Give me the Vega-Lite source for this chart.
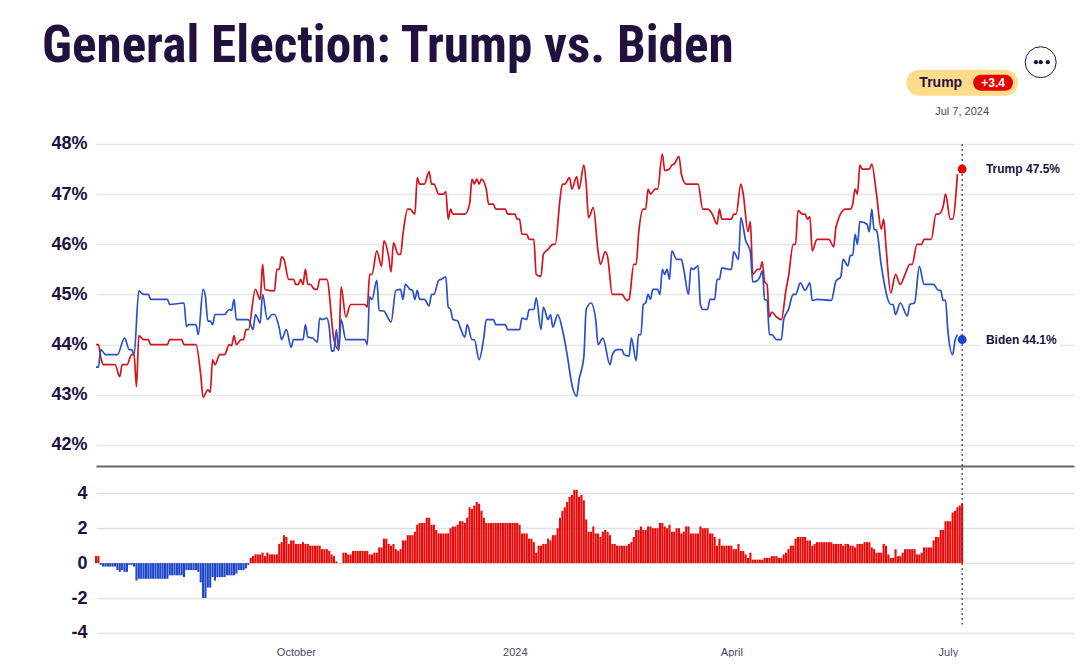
{"$schema":"https://vega.github.io/schema/vega-lite/v6.json","background":"white","padding":{"left":41,"top":20,"right":5,"bottom":0},"spacing":0,"config":{"view":{"stroke":null},"concat":{"spacing":0}},"title":{"text":"General Election: Trump vs. Biden","anchor":"start","frame":"bounds","font":"Roboto Condensed, Roboto, Liberation Sans","fontSize":51.2,"fontWeight":"bold","color":"#22103f","offset":-28,"dx":-9},
"datasets":{
"polls":[
{"date":"2023-07-09","who":"Trump","pct":44.0},{"date":"2023-07-10","who":"Trump","pct":44.0},{"date":"2023-07-11","who":"Trump","pct":43.75},{"date":"2023-07-12","who":"Trump","pct":43.6},{"date":"2023-07-17","who":"Trump","pct":43.6},{"date":"2023-07-19","who":"Trump","pct":43.36},{"date":"2023-07-20","who":"Trump","pct":43.6},{"date":"2023-07-22","who":"Trump","pct":43.6},{"date":"2023-07-24","who":"Trump","pct":43.8},{"date":"2023-07-25","who":"Trump","pct":43.8},{"date":"2023-07-26","who":"Trump","pct":43.16},{"date":"2023-07-27","who":"Trump","pct":44.18},{"date":"2023-07-29","who":"Trump","pct":44.1},{"date":"2023-07-31","who":"Trump","pct":44.1},{"date":"2023-08-01","who":"Trump","pct":44.0},{"date":"2023-08-08","who":"Trump","pct":44.0},{"date":"2023-08-09","who":"Trump","pct":44.1},{"date":"2023-08-14","who":"Trump","pct":44.1},{"date":"2023-08-15","who":"Trump","pct":44.0},{"date":"2023-08-20","who":"Trump","pct":44.0},{"date":"2023-08-22","who":"Trump","pct":43.4},{"date":"2023-08-23","who":"Trump","pct":42.95},{"date":"2023-08-25","who":"Trump","pct":43.1},{"date":"2023-08-26","who":"Trump","pct":43.05},{"date":"2023-08-27","who":"Trump","pct":43.7},{"date":"2023-08-28","who":"Trump","pct":43.6},{"date":"2023-08-30","who":"Trump","pct":43.8},{"date":"2023-09-01","who":"Trump","pct":43.8},{"date":"2023-09-03","who":"Trump","pct":44.0},{"date":"2023-09-04","who":"Trump","pct":43.98},{"date":"2023-09-05","who":"Trump","pct":44.18},{"date":"2023-09-06","who":"Trump","pct":44.0},{"date":"2023-09-08","who":"Trump","pct":44.1},{"date":"2023-09-09","who":"Trump","pct":44.1},{"date":"2023-09-10","who":"Trump","pct":44.3},{"date":"2023-09-11","who":"Trump","pct":44.3},{"date":"2023-09-14","who":"Trump","pct":45.1},{"date":"2023-09-16","who":"Trump","pct":44.9},{"date":"2023-09-17","who":"Trump","pct":45.6},{"date":"2023-09-18","who":"Trump","pct":45.1},{"date":"2023-09-22","who":"Trump","pct":45.07},{"date":"2023-09-23","who":"Trump","pct":45.5},{"date":"2023-09-24","who":"Trump","pct":45.5},{"date":"2023-09-25","who":"Trump","pct":45.75},{"date":"2023-09-26","who":"Trump","pct":45.7},{"date":"2023-09-28","who":"Trump","pct":45.3},{"date":"2023-09-30","who":"Trump","pct":45.3},
{"date":"2023-10-01","who":"Trump","pct":45.2},{"date":"2023-10-02","who":"Trump","pct":45.2},{"date":"2023-10-03","who":"Trump","pct":45.3},{"date":"2023-10-04","who":"Trump","pct":45.2},{"date":"2023-10-05","who":"Trump","pct":45.5},{"date":"2023-10-06","who":"Trump","pct":45.2},{"date":"2023-10-07","who":"Trump","pct":45.2},{"date":"2023-10-09","who":"Trump","pct":45.1},{"date":"2023-10-10","who":"Trump","pct":45.1},{"date":"2023-10-11","who":"Trump","pct":45.3},{"date":"2023-10-14","who":"Trump","pct":45.3},{"date":"2023-10-17","who":"Trump","pct":44.1},{"date":"2023-10-19","who":"Trump","pct":43.9},{"date":"2023-10-20","who":"Trump","pct":45.15},{"date":"2023-10-22","who":"Trump","pct":44.55},{"date":"2023-10-24","who":"Trump","pct":44.8},{"date":"2023-10-30","who":"Trump","pct":44.8},{"date":"2023-10-31","who":"Trump","pct":44.75},
{"date":"2023-11-01","who":"Trump","pct":45.4},{"date":"2023-11-02","who":"Trump","pct":45.4},{"date":"2023-11-04","who":"Trump","pct":45.87},{"date":"2023-11-06","who":"Trump","pct":45.56},{"date":"2023-11-07","who":"Trump","pct":46.07},{"date":"2023-11-09","who":"Trump","pct":45.75},{"date":"2023-11-10","who":"Trump","pct":45.45},{"date":"2023-11-11","who":"Trump","pct":46.03},{"date":"2023-11-13","who":"Trump","pct":45.8},{"date":"2023-11-14","who":"Trump","pct":45.8},{"date":"2023-11-15","who":"Trump","pct":46.2},{"date":"2023-11-17","who":"Trump","pct":46.7},{"date":"2023-11-18","who":"Trump","pct":46.7},{"date":"2023-11-20","who":"Trump","pct":46.6},{"date":"2023-11-21","who":"Trump","pct":47.33},{"date":"2023-11-22","who":"Trump","pct":47.2},{"date":"2023-11-24","who":"Trump","pct":47.2},{"date":"2023-11-26","who":"Trump","pct":47.45},{"date":"2023-11-27","who":"Trump","pct":47.2},{"date":"2023-11-28","who":"Trump","pct":47.2},{"date":"2023-11-30","who":"Trump","pct":47.0},
{"date":"2023-12-02","who":"Trump","pct":47.0},{"date":"2023-12-03","who":"Trump","pct":47.05},{"date":"2023-12-04","who":"Trump","pct":46.5},{"date":"2023-12-05","who":"Trump","pct":46.7},{"date":"2023-12-06","who":"Trump","pct":46.6},{"date":"2023-12-11","who":"Trump","pct":46.6},{"date":"2023-12-13","who":"Trump","pct":46.8},{"date":"2023-12-14","who":"Trump","pct":47.3},{"date":"2023-12-15","who":"Trump","pct":47.2},{"date":"2023-12-16","who":"Trump","pct":47.3},{"date":"2023-12-17","who":"Trump","pct":47.2},{"date":"2023-12-18","who":"Trump","pct":47.3},{"date":"2023-12-20","who":"Trump","pct":47.1},{"date":"2023-12-21","who":"Trump","pct":46.8},{"date":"2023-12-23","who":"Trump","pct":46.8},{"date":"2023-12-24","who":"Trump","pct":46.7},{"date":"2023-12-28","who":"Trump","pct":46.7},{"date":"2023-12-29","who":"Trump","pct":46.6},
{"date":"2024-01-01","who":"Trump","pct":46.6},{"date":"2024-01-02","who":"Trump","pct":46.5},{"date":"2024-01-03","who":"Trump","pct":46.5},{"date":"2024-01-04","who":"Trump","pct":46.2},{"date":"2024-01-06","who":"Trump","pct":46.2},{"date":"2024-01-07","who":"Trump","pct":46.1},{"date":"2024-01-09","who":"Trump","pct":46.1},{"date":"2024-01-10","who":"Trump","pct":45.4},{"date":"2024-01-12","who":"Trump","pct":45.36},{"date":"2024-01-13","who":"Trump","pct":45.8},{"date":"2024-01-15","who":"Trump","pct":45.9},{"date":"2024-01-17","who":"Trump","pct":46.0},{"date":"2024-01-18","who":"Trump","pct":46.0},{"date":"2024-01-20","who":"Trump","pct":46.9},{"date":"2024-01-21","who":"Trump","pct":47.2},{"date":"2024-01-22","who":"Trump","pct":47.2},{"date":"2024-01-24","who":"Trump","pct":47.33},{"date":"2024-01-25","who":"Trump","pct":47.1},{"date":"2024-01-27","who":"Trump","pct":47.35},{"date":"2024-01-28","who":"Trump","pct":47.1},{"date":"2024-01-30","who":"Trump","pct":47.58},{"date":"2024-01-31","who":"Trump","pct":47.2},
{"date":"2024-02-01","who":"Trump","pct":46.53},{"date":"2024-02-03","who":"Trump","pct":46.73},{"date":"2024-02-05","who":"Trump","pct":45.85},{"date":"2024-02-06","who":"Trump","pct":45.6},{"date":"2024-02-08","who":"Trump","pct":45.85},{"date":"2024-02-09","who":"Trump","pct":45.75},{"date":"2024-02-11","who":"Trump","pct":45.0},{"date":"2024-02-15","who":"Trump","pct":45.0},{"date":"2024-02-17","who":"Trump","pct":44.88},{"date":"2024-02-18","who":"Trump","pct":44.9},{"date":"2024-02-20","who":"Trump","pct":45.6},{"date":"2024-02-21","who":"Trump","pct":45.6},{"date":"2024-02-22","who":"Trump","pct":46.2},{"date":"2024-02-24","who":"Trump","pct":46.7},{"date":"2024-02-25","who":"Trump","pct":46.7},{"date":"2024-02-26","who":"Trump","pct":47.1},{"date":"2024-02-27","who":"Trump","pct":47.0},{"date":"2024-02-29","who":"Trump","pct":47.1},
{"date":"2024-03-01","who":"Trump","pct":47.1},{"date":"2024-03-03","who":"Trump","pct":47.8},{"date":"2024-03-04","who":"Trump","pct":47.47},{"date":"2024-03-06","who":"Trump","pct":47.5},{"date":"2024-03-07","who":"Trump","pct":47.58},{"date":"2024-03-08","who":"Trump","pct":47.6},{"date":"2024-03-10","who":"Trump","pct":47.75},{"date":"2024-03-11","who":"Trump","pct":47.4},{"date":"2024-03-13","who":"Trump","pct":47.2},{"date":"2024-03-18","who":"Trump","pct":47.2},{"date":"2024-03-20","who":"Trump","pct":46.7},{"date":"2024-03-22","who":"Trump","pct":46.7},{"date":"2024-03-24","who":"Trump","pct":46.6},{"date":"2024-03-26","who":"Trump","pct":46.4},{"date":"2024-03-27","who":"Trump","pct":46.7},{"date":"2024-03-28","who":"Trump","pct":46.5},
{"date":"2024-04-01","who":"Trump","pct":46.5},{"date":"2024-04-02","who":"Trump","pct":46.6},{"date":"2024-04-03","who":"Trump","pct":46.6},{"date":"2024-04-05","who":"Trump","pct":47.2},{"date":"2024-04-06","who":"Trump","pct":47.0},{"date":"2024-04-08","who":"Trump","pct":46.25},{"date":"2024-04-09","who":"Trump","pct":46.45},{"date":"2024-04-10","who":"Trump","pct":45.4},{"date":"2024-04-12","who":"Trump","pct":45.5},{"date":"2024-04-13","who":"Trump","pct":45.5},{"date":"2024-04-14","who":"Trump","pct":45.65},{"date":"2024-04-15","who":"Trump","pct":45.25},{"date":"2024-04-16","who":"Trump","pct":45.2},{"date":"2024-04-17","who":"Trump","pct":44.55},{"date":"2024-04-18","who":"Trump","pct":44.65},{"date":"2024-04-20","who":"Trump","pct":44.55},{"date":"2024-04-22","who":"Trump","pct":44.5},{"date":"2024-04-24","who":"Trump","pct":45.1},{"date":"2024-04-25","who":"Trump","pct":45.35},{"date":"2024-04-27","who":"Trump","pct":46.0},{"date":"2024-04-28","who":"Trump","pct":46.0},{"date":"2024-04-29","who":"Trump","pct":46.67},
{"date":"2024-05-01","who":"Trump","pct":46.6},{"date":"2024-05-02","who":"Trump","pct":46.6},{"date":"2024-05-03","who":"Trump","pct":46.5},{"date":"2024-05-04","who":"Trump","pct":46.55},{"date":"2024-05-05","who":"Trump","pct":45.87},{"date":"2024-05-07","who":"Trump","pct":46.1},{"date":"2024-05-12","who":"Trump","pct":46.1},{"date":"2024-05-14","who":"Trump","pct":45.95},{"date":"2024-05-15","who":"Trump","pct":46.35},{"date":"2024-05-19","who":"Trump","pct":46.7},{"date":"2024-05-21","who":"Trump","pct":46.7},{"date":"2024-05-22","who":"Trump","pct":46.8},{"date":"2024-05-23","who":"Trump","pct":47.1},{"date":"2024-05-24","who":"Trump","pct":47.0},{"date":"2024-05-25","who":"Trump","pct":47.58},{"date":"2024-05-26","who":"Trump","pct":47.5},{"date":"2024-05-29","who":"Trump","pct":47.5},{"date":"2024-05-30","who":"Trump","pct":47.6},
{"date":"2024-06-01","who":"Trump","pct":47.0},{"date":"2024-06-03","who":"Trump","pct":46.3},{"date":"2024-06-04","who":"Trump","pct":46.5},{"date":"2024-06-05","who":"Trump","pct":45.95},{"date":"2024-06-07","who":"Trump","pct":45.03},{"date":"2024-06-09","who":"Trump","pct":45.4},{"date":"2024-06-11","who":"Trump","pct":45.2},{"date":"2024-06-13","who":"Trump","pct":45.4},{"date":"2024-06-15","who":"Trump","pct":45.6},{"date":"2024-06-16","who":"Trump","pct":45.6},{"date":"2024-06-18","who":"Trump","pct":46.0},{"date":"2024-06-20","who":"Trump","pct":46.0},{"date":"2024-06-21","who":"Trump","pct":46.1},{"date":"2024-06-24","who":"Trump","pct":46.1},{"date":"2024-06-26","who":"Trump","pct":46.6},{"date":"2024-06-27","who":"Trump","pct":46.6},{"date":"2024-06-29","who":"Trump","pct":46.75},{"date":"2024-06-30","who":"Trump","pct":47.0},{"date":"2024-07-02","who":"Trump","pct":46.5},{"date":"2024-07-03","who":"Trump","pct":46.5},{"date":"2024-07-05","who":"Trump","pct":47.4},
{"date":"2023-07-09","who":"Biden","pct":43.55},{"date":"2023-07-10","who":"Biden","pct":43.55},{"date":"2023-07-11","who":"Biden","pct":43.9},{"date":"2023-07-13","who":"Biden","pct":43.8},{"date":"2023-07-18","who":"Biden","pct":43.8},{"date":"2023-07-21","who":"Biden","pct":44.13},{"date":"2023-07-23","who":"Biden","pct":43.9},{"date":"2023-07-24","who":"Biden","pct":43.9},{"date":"2023-07-25","who":"Biden","pct":43.8},{"date":"2023-07-27","who":"Biden","pct":45.07},{"date":"2023-07-29","who":"Biden","pct":45.0},{"date":"2023-07-31","who":"Biden","pct":45.0},{"date":"2023-08-01","who":"Biden","pct":44.9},{"date":"2023-08-08","who":"Biden","pct":44.9},{"date":"2023-08-09","who":"Biden","pct":44.8},{"date":"2023-08-15","who":"Biden","pct":44.83},{"date":"2023-08-16","who":"Biden","pct":44.36},{"date":"2023-08-17","who":"Biden","pct":44.4},{"date":"2023-08-20","who":"Biden","pct":44.4},{"date":"2023-08-21","who":"Biden","pct":44.2},{"date":"2023-08-23","who":"Biden","pct":45.1},{"date":"2023-08-24","who":"Biden","pct":44.95},{"date":"2023-08-25","who":"Biden","pct":44.47},{"date":"2023-08-26","who":"Biden","pct":44.47},{"date":"2023-08-27","who":"Biden","pct":44.4},{"date":"2023-08-28","who":"Biden","pct":44.6},{"date":"2023-09-01","who":"Biden","pct":44.6},{"date":"2023-09-03","who":"Biden","pct":44.7},{"date":"2023-09-04","who":"Biden","pct":44.68},{"date":"2023-09-05","who":"Biden","pct":44.9},{"date":"2023-09-06","who":"Biden","pct":44.5},{"date":"2023-09-11","who":"Biden","pct":44.5},{"date":"2023-09-13","who":"Biden","pct":44.3},{"date":"2023-09-14","who":"Biden","pct":44.6},{"date":"2023-09-16","who":"Biden","pct":44.43},{"date":"2023-09-17","who":"Biden","pct":45.0},{"date":"2023-09-19","who":"Biden","pct":44.5},{"date":"2023-09-21","who":"Biden","pct":44.6},{"date":"2023-09-22","who":"Biden","pct":44.6},{"date":"2023-09-24","who":"Biden","pct":44.33},{"date":"2023-09-25","who":"Biden","pct":44.1},{"date":"2023-09-27","who":"Biden","pct":44.3},{"date":"2023-09-29","who":"Biden","pct":43.95},{"date":"2023-09-30","who":"Biden","pct":44.1},
{"date":"2023-10-04","who":"Biden","pct":44.1},{"date":"2023-10-05","who":"Biden","pct":44.4},{"date":"2023-10-06","who":"Biden","pct":44.15},{"date":"2023-10-08","who":"Biden","pct":44.13},{"date":"2023-10-10","who":"Biden","pct":44.05},{"date":"2023-10-11","who":"Biden","pct":44.53},{"date":"2023-10-12","who":"Biden","pct":44.5},{"date":"2023-10-14","who":"Biden","pct":44.53},{"date":"2023-10-15","who":"Biden","pct":44.35},{"date":"2023-10-16","who":"Biden","pct":43.87},{"date":"2023-10-17","who":"Biden","pct":43.88},{"date":"2023-10-18","who":"Biden","pct":44.3},{"date":"2023-10-19","who":"Biden","pct":43.88},{"date":"2023-10-20","who":"Biden","pct":44.5},{"date":"2023-10-22","who":"Biden","pct":44.1},{"date":"2023-10-30","who":"Biden","pct":44.1},{"date":"2023-10-31","who":"Biden","pct":44.0},
{"date":"2023-11-01","who":"Biden","pct":44.95},{"date":"2023-11-02","who":"Biden","pct":44.9},{"date":"2023-11-04","who":"Biden","pct":45.28},{"date":"2023-11-05","who":"Biden","pct":44.68},{"date":"2023-11-07","who":"Biden","pct":44.67},{"date":"2023-11-08","who":"Biden","pct":44.6},{"date":"2023-11-10","who":"Biden","pct":44.45},{"date":"2023-11-12","who":"Biden","pct":45.08},{"date":"2023-11-14","who":"Biden","pct":45.1},{"date":"2023-11-15","who":"Biden","pct":44.9},{"date":"2023-11-16","who":"Biden","pct":45.2},{"date":"2023-11-18","who":"Biden","pct":45.1},{"date":"2023-11-19","who":"Biden","pct":45.08},{"date":"2023-11-20","who":"Biden","pct":44.9},{"date":"2023-11-21","who":"Biden","pct":45.08},{"date":"2023-11-22","who":"Biden","pct":44.9},{"date":"2023-11-24","who":"Biden","pct":44.9},{"date":"2023-11-26","who":"Biden","pct":44.77},{"date":"2023-11-27","who":"Biden","pct":45.0},{"date":"2023-11-28","who":"Biden","pct":45.0},{"date":"2023-11-30","who":"Biden","pct":45.28},
{"date":"2023-12-01","who":"Biden","pct":45.3},{"date":"2023-12-03","who":"Biden","pct":45.35},{"date":"2023-12-04","who":"Biden","pct":44.75},{"date":"2023-12-05","who":"Biden","pct":44.7},{"date":"2023-12-06","who":"Biden","pct":44.5},{"date":"2023-12-08","who":"Biden","pct":44.47},{"date":"2023-12-09","who":"Biden","pct":44.35},{"date":"2023-12-11","who":"Biden","pct":44.15},{"date":"2023-12-12","who":"Biden","pct":44.4},{"date":"2023-12-14","who":"Biden","pct":44.1},{"date":"2023-12-15","who":"Biden","pct":44.1},{"date":"2023-12-17","who":"Biden","pct":43.7},{"date":"2023-12-19","who":"Biden","pct":44.15},{"date":"2023-12-20","who":"Biden","pct":44.5},{"date":"2023-12-23","who":"Biden","pct":44.5},{"date":"2023-12-24","who":"Biden","pct":44.4},{"date":"2023-12-28","who":"Biden","pct":44.4},{"date":"2023-12-29","who":"Biden","pct":44.3},
{"date":"2024-01-03","who":"Biden","pct":44.3},{"date":"2024-01-04","who":"Biden","pct":44.53},{"date":"2024-01-06","who":"Biden","pct":44.5},{"date":"2024-01-07","who":"Biden","pct":44.7},{"date":"2024-01-09","who":"Biden","pct":44.7},{"date":"2024-01-10","who":"Biden","pct":44.93},{"date":"2024-01-12","who":"Biden","pct":44.3},{"date":"2024-01-13","who":"Biden","pct":44.75},{"date":"2024-01-15","who":"Biden","pct":44.5},{"date":"2024-01-16","who":"Biden","pct":44.6},{"date":"2024-01-17","who":"Biden","pct":44.35},{"date":"2024-01-19","who":"Biden","pct":44.6},{"date":"2024-01-21","who":"Biden","pct":44.3},{"date":"2024-01-23","who":"Biden","pct":43.8},{"date":"2024-01-25","who":"Biden","pct":43.2},{"date":"2024-01-27","who":"Biden","pct":42.97},{"date":"2024-01-28","who":"Biden","pct":43.3},{"date":"2024-01-30","who":"Biden","pct":43.75},{"date":"2024-01-31","who":"Biden","pct":44.7},
{"date":"2024-02-02","who":"Biden","pct":44.83},{"date":"2024-02-04","who":"Biden","pct":44.5},{"date":"2024-02-05","who":"Biden","pct":44.0},{"date":"2024-02-07","who":"Biden","pct":44.13},{"date":"2024-02-10","who":"Biden","pct":43.6},{"date":"2024-02-11","who":"Biden","pct":43.8},{"date":"2024-02-13","who":"Biden","pct":43.9},{"date":"2024-02-15","who":"Biden","pct":43.9},{"date":"2024-02-16","who":"Biden","pct":43.8},{"date":"2024-02-18","who":"Biden","pct":43.77},{"date":"2024-02-19","who":"Biden","pct":44.13},{"date":"2024-02-21","who":"Biden","pct":43.68},{"date":"2024-02-22","who":"Biden","pct":44.2},{"date":"2024-02-23","who":"Biden","pct":44.2},{"date":"2024-02-24","who":"Biden","pct":44.8},{"date":"2024-02-25","who":"Biden","pct":44.83},{"date":"2024-02-26","who":"Biden","pct":45.0},{"date":"2024-02-27","who":"Biden","pct":44.9},{"date":"2024-02-28","who":"Biden","pct":45.1},
{"date":"2024-03-01","who":"Biden","pct":45.1},{"date":"2024-03-02","who":"Biden","pct":45.0},{"date":"2024-03-03","who":"Biden","pct":45.5},{"date":"2024-03-04","who":"Biden","pct":45.4},{"date":"2024-03-05","who":"Biden","pct":45.5},{"date":"2024-03-06","who":"Biden","pct":45.3},{"date":"2024-03-07","who":"Biden","pct":45.87},{"date":"2024-03-09","who":"Biden","pct":45.7},{"date":"2024-03-11","who":"Biden","pct":45.7},{"date":"2024-03-12","who":"Biden","pct":45.5},{"date":"2024-03-14","who":"Biden","pct":45.0},{"date":"2024-03-15","who":"Biden","pct":45.53},{"date":"2024-03-16","who":"Biden","pct":45.5},{"date":"2024-03-18","who":"Biden","pct":45.57},{"date":"2024-03-19","who":"Biden","pct":44.8},{"date":"2024-03-20","who":"Biden","pct":44.7},{"date":"2024-03-22","who":"Biden","pct":44.7},{"date":"2024-03-23","who":"Biden","pct":44.9},{"date":"2024-03-25","who":"Biden","pct":44.9},{"date":"2024-03-26","who":"Biden","pct":45.3},{"date":"2024-03-27","who":"Biden","pct":45.3},{"date":"2024-03-28","who":"Biden","pct":45.53},{"date":"2024-03-31","who":"Biden","pct":45.5},
{"date":"2024-04-01","who":"Biden","pct":45.5},{"date":"2024-04-02","who":"Biden","pct":45.85},{"date":"2024-04-04","who":"Biden","pct":45.7},{"date":"2024-04-05","who":"Biden","pct":46.53},{"date":"2024-04-07","who":"Biden","pct":46.08},{"date":"2024-04-09","who":"Biden","pct":45.85},{"date":"2024-04-10","who":"Biden","pct":45.25},{"date":"2024-04-12","who":"Biden","pct":45.28},{"date":"2024-04-13","who":"Biden","pct":45.35},{"date":"2024-04-14","who":"Biden","pct":45.47},{"date":"2024-04-15","who":"Biden","pct":44.9},{"date":"2024-04-16","who":"Biden","pct":44.88},{"date":"2024-04-17","who":"Biden","pct":44.2},{"date":"2024-04-18","who":"Biden","pct":44.2},{"date":"2024-04-20","who":"Biden","pct":44.1},{"date":"2024-04-22","who":"Biden","pct":44.1},{"date":"2024-04-23","who":"Biden","pct":44.5},{"date":"2024-04-25","who":"Biden","pct":44.7},{"date":"2024-04-27","who":"Biden","pct":45.0},{"date":"2024-04-28","who":"Biden","pct":45.0},{"date":"2024-04-30","who":"Biden","pct":45.23},
{"date":"2024-05-02","who":"Biden","pct":45.08},{"date":"2024-05-04","who":"Biden","pct":45.23},{"date":"2024-05-05","who":"Biden","pct":44.88},{"date":"2024-05-07","who":"Biden","pct":44.9},{"date":"2024-05-13","who":"Biden","pct":44.88},{"date":"2024-05-15","who":"Biden","pct":45.27},{"date":"2024-05-17","who":"Biden","pct":45.35},{"date":"2024-05-18","who":"Biden","pct":45.7},{"date":"2024-05-20","who":"Biden","pct":45.57},{"date":"2024-05-21","who":"Biden","pct":45.78},{"date":"2024-05-22","who":"Biden","pct":45.78},{"date":"2024-05-23","who":"Biden","pct":46.2},{"date":"2024-05-24","who":"Biden","pct":46.0},{"date":"2024-05-25","who":"Biden","pct":46.45},{"date":"2024-05-28","who":"Biden","pct":46.4},{"date":"2024-05-29","who":"Biden","pct":46.25},{"date":"2024-05-30","who":"Biden","pct":46.7},{"date":"2024-05-31","who":"Biden","pct":46.3},
{"date":"2024-06-01","who":"Biden","pct":46.28},{"date":"2024-06-03","who":"Biden","pct":45.58},{"date":"2024-06-07","who":"Biden","pct":44.8},{"date":"2024-06-08","who":"Biden","pct":44.8},{"date":"2024-06-09","who":"Biden","pct":44.6},{"date":"2024-06-11","who":"Biden","pct":44.83},{"date":"2024-06-14","who":"Biden","pct":44.57},{"date":"2024-06-15","who":"Biden","pct":44.8},{"date":"2024-06-17","who":"Biden","pct":44.83},{"date":"2024-06-19","who":"Biden","pct":45.56},{"date":"2024-06-21","who":"Biden","pct":45.2},{"date":"2024-06-25","who":"Biden","pct":45.2},{"date":"2024-06-27","who":"Biden","pct":45.08},{"date":"2024-06-28","who":"Biden","pct":45.08},{"date":"2024-06-29","who":"Biden","pct":44.88},{"date":"2024-06-30","who":"Biden","pct":44.88},{"date":"2024-07-01","who":"Biden","pct":44.28},{"date":"2024-07-03","who":"Biden","pct":43.8},{"date":"2024-07-04","who":"Biden","pct":44.08},{"date":"2024-07-05","who":"Biden","pct":44.2}
],
"spread":[
{"date":"2023-07-09","spread":0.4},{"date":"2023-07-10","spread":0.4},{"date":"2023-07-11","spread":-0.1},{"date":"2023-07-12","spread":-0.2},{"date":"2023-07-13","spread":-0.2},{"date":"2023-07-14","spread":-0.2},{"date":"2023-07-15","spread":-0.2},{"date":"2023-07-16","spread":-0.2},{"date":"2023-07-17","spread":-0.2},{"date":"2023-07-18","spread":-0.4},{"date":"2023-07-19","spread":-0.5},{"date":"2023-07-20","spread":-0.4},{"date":"2023-07-21","spread":-0.5},{"date":"2023-07-22","spread":-0.5},{"date":"2023-07-23","spread":-0.1},{"date":"2023-07-24","spread":-0.1},{"date":"2023-07-25","spread":-0.2},{"date":"2023-07-26","spread":-1.0},{"date":"2023-07-27","spread":-0.9},{"date":"2023-07-28","spread":-0.9},{"date":"2023-07-29","spread":-0.9},{"date":"2023-07-30","spread":-0.9},{"date":"2023-07-31","spread":-0.9},
{"date":"2023-08-01","spread":-0.9},{"date":"2023-08-02","spread":-0.9},{"date":"2023-08-03","spread":-0.9},{"date":"2023-08-04","spread":-0.9},{"date":"2023-08-05","spread":-0.9},{"date":"2023-08-06","spread":-0.9},{"date":"2023-08-07","spread":-0.9},{"date":"2023-08-08","spread":-0.9},{"date":"2023-08-09","spread":-0.7},{"date":"2023-08-10","spread":-0.7},{"date":"2023-08-11","spread":-0.7},{"date":"2023-08-12","spread":-0.7},{"date":"2023-08-13","spread":-0.7},{"date":"2023-08-14","spread":-0.7},{"date":"2023-08-15","spread":-0.8},{"date":"2023-08-16","spread":-0.4},{"date":"2023-08-17","spread":-0.4},{"date":"2023-08-18","spread":-0.4},{"date":"2023-08-19","spread":-0.4},{"date":"2023-08-20","spread":-0.4},{"date":"2023-08-21","spread":-0.5},{"date":"2023-08-22","spread":-1.1},{"date":"2023-08-23","spread":-2.0},{"date":"2023-08-24","spread":-2.0},{"date":"2023-08-25","spread":-1.4},{"date":"2023-08-26","spread":-1.4},{"date":"2023-08-27","spread":-0.8},{"date":"2023-08-28","spread":-1.0},{"date":"2023-08-29","spread":-0.8},{"date":"2023-08-30","spread":-0.8},{"date":"2023-08-31","spread":-0.8},
{"date":"2023-09-01","spread":-0.8},{"date":"2023-09-02","spread":-0.7},{"date":"2023-09-03","spread":-0.7},{"date":"2023-09-04","spread":-0.7},{"date":"2023-09-05","spread":-0.7},{"date":"2023-09-06","spread":-0.6},{"date":"2023-09-07","spread":-0.4},{"date":"2023-09-08","spread":-0.4},{"date":"2023-09-09","spread":-0.4},{"date":"2023-09-10","spread":-0.3},{"date":"2023-09-11","spread":-0.1},{"date":"2023-09-12","spread":0.3},{"date":"2023-09-13","spread":0.4},{"date":"2023-09-14","spread":0.5},{"date":"2023-09-15","spread":0.5},{"date":"2023-09-16","spread":0.5},{"date":"2023-09-17","spread":0.6},{"date":"2023-09-18","spread":0.4},{"date":"2023-09-19","spread":0.6},{"date":"2023-09-20","spread":0.5},{"date":"2023-09-21","spread":0.5},{"date":"2023-09-22","spread":0.5},{"date":"2023-09-23","spread":0.5},{"date":"2023-09-24","spread":1.1},{"date":"2023-09-25","spread":1.2},{"date":"2023-09-26","spread":1.6},{"date":"2023-09-27","spread":1.5},{"date":"2023-09-28","spread":1.1},{"date":"2023-09-29","spread":1.3},{"date":"2023-09-30","spread":1.3},
{"date":"2023-10-01","spread":1.1},{"date":"2023-10-02","spread":1.1},{"date":"2023-10-03","spread":1.1},{"date":"2023-10-04","spread":1.2},{"date":"2023-10-05","spread":1.1},{"date":"2023-10-06","spread":1.1},{"date":"2023-10-07","spread":1.0},{"date":"2023-10-08","spread":1.0},{"date":"2023-10-09","spread":1.0},{"date":"2023-10-10","spread":1.0},{"date":"2023-10-11","spread":1.0},{"date":"2023-10-12","spread":0.8},{"date":"2023-10-13","spread":0.8},{"date":"2023-10-14","spread":0.8},{"date":"2023-10-15","spread":0.7},{"date":"2023-10-16","spread":0.5},{"date":"2023-10-17","spread":0.4},{"date":"2023-10-18","spread":0.1},{"date":"2023-10-19","spread":0},{"date":"2023-10-20","spread":0},{"date":"2023-10-21","spread":0.6},{"date":"2023-10-22","spread":0.6},{"date":"2023-10-23","spread":0.5},{"date":"2023-10-24","spread":0.5},{"date":"2023-10-25","spread":0.7},{"date":"2023-10-26","spread":0.7},{"date":"2023-10-27","spread":0.7},{"date":"2023-10-28","spread":0.7},{"date":"2023-10-29","spread":0.7},{"date":"2023-10-30","spread":0.7},{"date":"2023-10-31","spread":0.7},
{"date":"2023-11-01","spread":0.5},{"date":"2023-11-02","spread":0.5},{"date":"2023-11-03","spread":0.6},{"date":"2023-11-04","spread":0.6},{"date":"2023-11-05","spread":0.9},{"date":"2023-11-06","spread":0.9},{"date":"2023-11-07","spread":1.4},{"date":"2023-11-08","spread":1.4},{"date":"2023-11-09","spread":1.1},{"date":"2023-11-10","spread":1.0},{"date":"2023-11-11","spread":1.1},{"date":"2023-11-12","spread":0.8},{"date":"2023-11-13","spread":0.7},{"date":"2023-11-14","spread":0.8},{"date":"2023-11-15","spread":1.3},{"date":"2023-11-16","spread":1.3},{"date":"2023-11-17","spread":1.6},{"date":"2023-11-18","spread":1.6},{"date":"2023-11-19","spread":1.6},{"date":"2023-11-20","spread":1.8},{"date":"2023-11-21","spread":2.2},{"date":"2023-11-22","spread":2.3},{"date":"2023-11-23","spread":2.3},{"date":"2023-11-24","spread":2.3},{"date":"2023-11-25","spread":2.6},{"date":"2023-11-26","spread":2.6},{"date":"2023-11-27","spread":2.2},{"date":"2023-11-28","spread":2.2},{"date":"2023-11-29","spread":1.9},{"date":"2023-11-30","spread":1.7},
{"date":"2023-12-01","spread":1.7},{"date":"2023-12-02","spread":1.7},{"date":"2023-12-03","spread":1.7},{"date":"2023-12-04","spread":1.7},{"date":"2023-12-05","spread":2.0},{"date":"2023-12-06","spread":2.1},{"date":"2023-12-07","spread":2.1},{"date":"2023-12-08","spread":2.2},{"date":"2023-12-09","spread":2.4},{"date":"2023-12-10","spread":2.4},{"date":"2023-12-11","spread":2.3},{"date":"2023-12-12","spread":2.6},{"date":"2023-12-13","spread":3.2},{"date":"2023-12-14","spread":3.1},{"date":"2023-12-15","spread":3.3},{"date":"2023-12-16","spread":3.5},{"date":"2023-12-17","spread":3.4},{"date":"2023-12-18","spread":3.0},{"date":"2023-12-19","spread":2.6},{"date":"2023-12-20","spread":2.3},{"date":"2023-12-21","spread":2.3},{"date":"2023-12-22","spread":2.3},{"date":"2023-12-23","spread":2.3},{"date":"2023-12-24","spread":2.3},{"date":"2023-12-25","spread":2.3},{"date":"2023-12-26","spread":2.3},{"date":"2023-12-27","spread":2.3},{"date":"2023-12-28","spread":2.3},{"date":"2023-12-29","spread":2.3},{"date":"2023-12-30","spread":2.3},{"date":"2023-12-31","spread":2.3},
{"date":"2024-01-01","spread":2.3},{"date":"2024-01-02","spread":2.3},{"date":"2024-01-03","spread":2.2},{"date":"2024-01-04","spread":1.7},{"date":"2024-01-05","spread":1.7},{"date":"2024-01-06","spread":1.7},{"date":"2024-01-07","spread":1.4},{"date":"2024-01-08","spread":1.4},{"date":"2024-01-09","spread":1.2},{"date":"2024-01-10","spread":0.6},{"date":"2024-01-11","spread":1.0},{"date":"2024-01-12","spread":1.0},{"date":"2024-01-13","spread":1.1},{"date":"2024-01-14","spread":1.1},{"date":"2024-01-15","spread":1.4},{"date":"2024-01-16","spread":1.3},{"date":"2024-01-17","spread":1.6},{"date":"2024-01-18","spread":1.6},{"date":"2024-01-19","spread":2.0},{"date":"2024-01-20","spread":2.6},{"date":"2024-01-21","spread":3.0},{"date":"2024-01-22","spread":3.2},{"date":"2024-01-23","spread":3.5},{"date":"2024-01-24","spread":3.8},{"date":"2024-01-25","spread":3.9},{"date":"2024-01-26","spread":4.2},{"date":"2024-01-27","spread":4.2},{"date":"2024-01-28","spread":3.8},{"date":"2024-01-29","spread":3.9},{"date":"2024-01-30","spread":3.6},{"date":"2024-01-31","spread":2.5},
{"date":"2024-02-01","spread":1.8},{"date":"2024-02-02","spread":1.8},{"date":"2024-02-03","spread":2.1},{"date":"2024-02-04","spread":1.7},{"date":"2024-02-05","spread":1.7},{"date":"2024-02-06","spread":1.5},{"date":"2024-02-07","spread":1.8},{"date":"2024-02-08","spread":1.9},{"date":"2024-02-09","spread":1.8},{"date":"2024-02-10","spread":1.6},{"date":"2024-02-11","spread":1.1},{"date":"2024-02-12","spread":1.1},{"date":"2024-02-13","spread":1.0},{"date":"2024-02-14","spread":1.0},{"date":"2024-02-15","spread":1.0},{"date":"2024-02-16","spread":1.0},{"date":"2024-02-17","spread":1.0},{"date":"2024-02-18","spread":1.1},{"date":"2024-02-19","spread":1.2},{"date":"2024-02-20","spread":1.5},{"date":"2024-02-21","spread":1.9},{"date":"2024-02-22","spread":1.9},{"date":"2024-02-23","spread":2.1},{"date":"2024-02-24","spread":1.9},{"date":"2024-02-25","spread":1.9},{"date":"2024-02-26","spread":2.1},{"date":"2024-02-27","spread":2.1},{"date":"2024-02-28","spread":2.0},{"date":"2024-02-29","spread":2.0},
{"date":"2024-03-01","spread":2.0},{"date":"2024-03-02","spread":2.3},{"date":"2024-03-03","spread":2.3},{"date":"2024-03-04","spread":2.1},{"date":"2024-03-05","spread":2.0},{"date":"2024-03-06","spread":2.2},{"date":"2024-03-07","spread":1.8},{"date":"2024-03-08","spread":1.8},{"date":"2024-03-09","spread":2.0},{"date":"2024-03-10","spread":2.0},{"date":"2024-03-11","spread":1.7},{"date":"2024-03-12","spread":1.8},{"date":"2024-03-13","spread":2.1},{"date":"2024-03-14","spread":2.1},{"date":"2024-03-15","spread":1.7},{"date":"2024-03-16","spread":1.7},{"date":"2024-03-17","spread":1.7},{"date":"2024-03-18","spread":1.7},{"date":"2024-03-19","spread":2.1},{"date":"2024-03-20","spread":2.0},{"date":"2024-03-21","spread":2.0},{"date":"2024-03-22","spread":2.0},{"date":"2024-03-23","spread":1.7},{"date":"2024-03-24","spread":1.7},{"date":"2024-03-25","spread":1.5},{"date":"2024-03-26","spread":1.0},{"date":"2024-03-27","spread":1.4},{"date":"2024-03-28","spread":1.0},{"date":"2024-03-29","spread":1.0},{"date":"2024-03-30","spread":1.0},{"date":"2024-03-31","spread":1.0},
{"date":"2024-04-01","spread":1.0},{"date":"2024-04-02","spread":0.8},{"date":"2024-04-03","spread":0.8},{"date":"2024-04-04","spread":1.1},{"date":"2024-04-05","spread":0.7},{"date":"2024-04-06","spread":0.7},{"date":"2024-04-07","spread":0.5},{"date":"2024-04-08","spread":0.3},{"date":"2024-04-09","spread":0.6},{"date":"2024-04-10","spread":0.2},{"date":"2024-04-11","spread":0.2},{"date":"2024-04-12","spread":0.2},{"date":"2024-04-13","spread":0.2},{"date":"2024-04-14","spread":0.2},{"date":"2024-04-15","spread":0.3},{"date":"2024-04-16","spread":0.3},{"date":"2024-04-17","spread":0.3},{"date":"2024-04-18","spread":0.4},{"date":"2024-04-19","spread":0.4},{"date":"2024-04-20","spread":0.4},{"date":"2024-04-21","spread":0.3},{"date":"2024-04-22","spread":0.3},{"date":"2024-04-23","spread":0.5},{"date":"2024-04-24","spread":0.6},{"date":"2024-04-25","spread":0.8},{"date":"2024-04-26","spread":1.0},{"date":"2024-04-27","spread":1.0},{"date":"2024-04-28","spread":1.4},{"date":"2024-04-29","spread":1.5},{"date":"2024-04-30","spread":1.5},
{"date":"2024-05-01","spread":1.5},{"date":"2024-05-02","spread":1.5},{"date":"2024-05-03","spread":1.3},{"date":"2024-05-04","spread":1.3},{"date":"2024-05-05","spread":1.0},{"date":"2024-05-06","spread":1.1},{"date":"2024-05-07","spread":1.2},{"date":"2024-05-08","spread":1.2},{"date":"2024-05-09","spread":1.2},{"date":"2024-05-10","spread":1.2},{"date":"2024-05-11","spread":1.2},{"date":"2024-05-12","spread":1.2},{"date":"2024-05-13","spread":1.2},{"date":"2024-05-14","spread":1.1},{"date":"2024-05-15","spread":1.1},{"date":"2024-05-16","spread":1.1},{"date":"2024-05-17","spread":1.1},{"date":"2024-05-18","spread":1.0},{"date":"2024-05-19","spread":1.1},{"date":"2024-05-20","spread":1.1},{"date":"2024-05-21","spread":1.0},{"date":"2024-05-22","spread":1.0},{"date":"2024-05-23","spread":0.9},{"date":"2024-05-24","spread":1.1},{"date":"2024-05-25","spread":1.1},{"date":"2024-05-26","spread":1.1},{"date":"2024-05-27","spread":1.2},{"date":"2024-05-28","spread":1.2},{"date":"2024-05-29","spread":1.2},{"date":"2024-05-30","spread":0.9},{"date":"2024-05-31","spread":0.8},
{"date":"2024-06-01","spread":0.6},{"date":"2024-06-02","spread":0.6},{"date":"2024-06-03","spread":0.6},{"date":"2024-06-04","spread":1.1},{"date":"2024-06-05","spread":1.0},{"date":"2024-06-06","spread":0.5},{"date":"2024-06-07","spread":0.3},{"date":"2024-06-08","spread":0.3},{"date":"2024-06-09","spread":0.8},{"date":"2024-06-10","spread":0.4},{"date":"2024-06-11","spread":0.4},{"date":"2024-06-12","spread":0.6},{"date":"2024-06-13","spread":0.8},{"date":"2024-06-14","spread":0.8},{"date":"2024-06-15","spread":0.8},{"date":"2024-06-16","spread":0.8},{"date":"2024-06-17","spread":0.8},{"date":"2024-06-18","spread":0.5},{"date":"2024-06-19","spread":0.5},{"date":"2024-06-20","spread":0.6},{"date":"2024-06-21","spread":0.9},{"date":"2024-06-22","spread":0.9},{"date":"2024-06-23","spread":0.9},{"date":"2024-06-24","spread":0.9},{"date":"2024-06-25","spread":1.3},{"date":"2024-06-26","spread":1.5},{"date":"2024-06-27","spread":1.5},{"date":"2024-06-28","spread":1.9},{"date":"2024-06-29","spread":1.9},{"date":"2024-06-30","spread":2.4},
{"date":"2024-07-01","spread":2.4},{"date":"2024-07-02","spread":2.4},{"date":"2024-07-03","spread":2.9},{"date":"2024-07-04","spread":3.0},{"date":"2024-07-05","spread":3.2},{"date":"2024-07-06","spread":3.3},{"date":"2024-07-07","spread":3.4}
]},
"vconcat":[
{"width":978,"height":391,"encoding":{"x":{"field":"date","type":"temporal","scale":{"domain":["2023-07-09","2024-08-23"],"padding":0},"axis":{"labels":false,"ticks":false,"grid":false,"title":null,"domainColor":"#666666","domainWidth":2}},"y":{"field":"pct","type":"quantitative","scale":{"domain":[41.58,49.375],"nice":false,"zero":false},"axis":{"values":[42,43,44,45,46,47,48],"labelExpr":"datum.value+'%'","title":null,"domain":false,"ticks":false,"grid":true,"gridColor":"#e6e6e6","gridWidth":1.5,"labelFont":"Liberation Sans","labelFontWeight":"bold","labelFontSize":18,"labelColor":"#22103f","labelPadding":9}}},
"layer":[
{"mark":{"type":"rule","stroke":"white","strokeWidth":14},"data":{"values":[{"date":"2024-07-15","end":"2024-08-17","pct":44.1}]},"encoding":{"x2":{"field":"end"}}},
{"mark":{"type":"line","interpolate":"monotone","strokeWidth":1.7},"data":{"name":"polls"},"encoding":{"color":{"field":"who","type":"nominal","legend":null,"scale":{"domain":["Trump","Biden"],"range":["#d4141c","#2a4fc6"]}}}},
{"mark":{"type":"rule","stroke":"#3b2a5c","strokeWidth":1.2,"strokeDash":[2,3]},"data":{"values":[{"date":"2024-07-07","pct":48,"low":41.58}]},"encoding":{"y2":{"field":"low"}}},
{"mark":{"type":"point","filled":true,"size":80,"opacity":1},"data":{"values":[{"date":"2024-07-07","who":"Trump","pct":47.5},{"date":"2024-07-07","who":"Biden","pct":44.1}]},"encoding":{"color":{"field":"who","type":"nominal","legend":null,"scale":{"domain":["Trump","Biden"],"range":["#e60000","#1a46cc"]}}}},
{"mark":{"type":"text","align":"left","baseline":"middle","font":"Liberation Sans","fontSize":12,"fontWeight":"bold","color":"#22103f"},"data":{"values":[{"date":"2024-07-17","pct":47.5,"label":"Trump 47.5%"},{"date":"2024-07-17","pct":44.1,"label":"Biden 44.1%"}]},"encoding":{"text":{"field":"label"}}},
{"mark":{"type":"rule","stroke":"#ffdc8c","strokeWidth":26,"strokeCap":"round"},"data":{"values":[{"date":"2024-06-19","end":"2024-07-25","pct":49.22}]},"encoding":{"x2":{"field":"end"}}},
{"mark":{"type":"rule","stroke":"#e60000","strokeWidth":16,"strokeCap":"round"},"data":{"values":[{"date":"2024-07-15","end":"2024-07-25","pct":49.22}]},"encoding":{"x2":{"field":"end"}}},
{"mark":{"type":"text","align":"center","baseline":"middle","font":"Liberation Sans","fontWeight":"bold","fontSize":14,"color":"#22103f"},"data":{"values":[{"date":"2024-06-28","pct":49.22,"label":"Trump"}]},"encoding":{"text":{"field":"label"}}},
{"mark":{"type":"text","align":"center","baseline":"middle","font":"Liberation Sans","fontWeight":"bold","fontSize":12,"color":"#ffffff"},"data":{"values":[{"date":"2024-07-20","pct":49.22,"label":"+3.4"}]},"encoding":{"text":{"field":"label"}}},
{"mark":{"type":"text","align":"center","baseline":"middle","font":"Liberation Sans","fontSize":11,"color":"#4d4560"},"data":{"values":[{"date":"2024-07-07","pct":48.63,"label":"Jul 7, 2024"}]},"encoding":{"text":{"field":"label"}}},
{"mark":{"type":"point","filled":false,"size":960,"stroke":"#22103f","strokeWidth":1,"opacity":1},"data":{"values":[{"date":"2024-08-09","pct":49.63}]}},
{"mark":{"type":"point","filled":true,"size":18,"color":"#22103f","opacity":1},"data":{"values":[{"date":"2024-08-07","pct":49.63},{"date":"2024-08-09","pct":49.63},{"date":"2024-08-12","pct":49.63}]}}
],"resolve":{"scale":{"color":"independent"}}},
{"width":978,"height":174,"encoding":{"x":{"field":"date","type":"temporal","scale":{"domain":["2023-07-09","2024-08-23"],"padding":0},"axis":{"values":[{"year":2023,"month":10,"date":1},{"year":2024,"month":1,"date":1},{"year":2024,"month":4,"date":1},{"year":2024,"month":7,"date":1}],"labelExpr":"month(datum.value)==0?'2024':timeFormat(datum.value,'%B')","title":null,"domain":false,"ticks":false,"grid":false,"labelFont":"Liberation Sans","labelFontSize":11,"labelColor":"#4d4560","labelPadding":4}},"y":{"field":"spread","type":"quantitative","scale":{"domain":[-4.52,5.45],"nice":false,"zero":false},"axis":{"values":[-4,-2,0,2,4],"labelExpr":"''+datum.value","title":null,"domain":false,"ticks":false,"grid":true,"gridColor":"#e0e0e0","gridWidth":1.5,"labelFont":"Liberation Sans","labelFontWeight":"bold","labelFontSize":18,"labelColor":"#22103f","labelPadding":9}}},
"layer":[
{"mark":{"type":"bar","width":2.1},"data":{"name":"spread"},"encoding":{"color":{"condition":{"test":"datum.spread<0","value":"#1f46c8"},"value":"#e60a0a"}}},
{"mark":{"type":"rule","stroke":"#3b2a5c","strokeWidth":1.2,"strokeDash":[2,3]},"data":{"values":[{"date":"2024-07-07","spread":5.45,"lo":-3.52}]},"encoding":{"y2":{"field":"lo"}}}
]}
]}
